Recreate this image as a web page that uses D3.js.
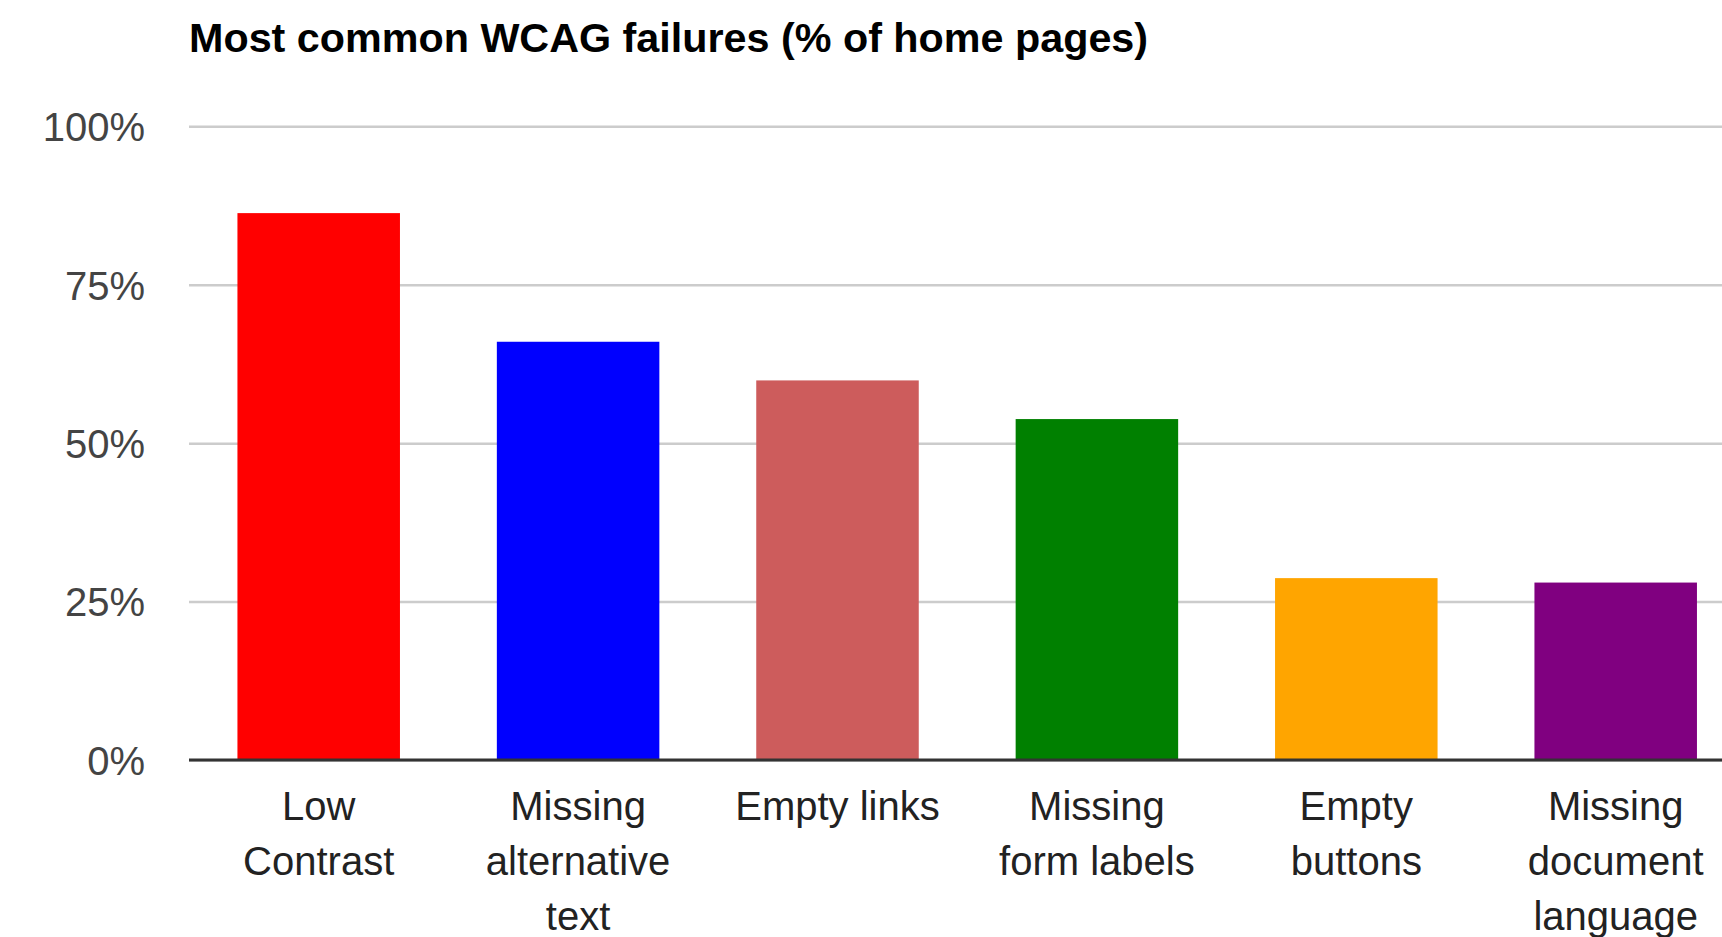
<!DOCTYPE html>
<html>
<head>
<meta charset="utf-8">
<script src="https://cdn.jsdelivr.net/npm/d3@7"></script>
<style>
  body { margin: 0; background: #ffffff; }
  text { font-family: Arial, "Liberation Sans", sans-serif; }
</style>
</head>
<body>
<script>
var categories = ["Low Contrast", "Missing alternative text", "Empty links",
  "Missing form labels", "Empty buttons", "Missing document language"];
var values = [86.3, 66.0, 59.9, 53.8, 28.7, 28.0];
var colors = ["#ff0000", "#0000ff", "#cd5c5c", "#008000", "#ffa500", "#800080"];
var yTicks = [0, 25, 50, 75, 100];
var title = "Most common WCAG failures (% of home pages)";

var width = 1722;
var height = 937;
var left = 189;
var step = 259.4;

var svg = d3.select("body")
  .append("svg")
  .attr("width", width)
  .attr("height", height);

var x = d3.scaleBand()
  .domain(categories)
  .range([left, left + step * categories.length])
  .paddingInner(0.3735)
  .paddingOuter(0.3735 / 2);

var y = d3.scaleLinear()
  .domain([0, 100])
  .range([760, 126.3]);

svg.append("text")
  .attr("x", left)
  .attr("y", 52)
  .attr("font-size", 41.3)
  .attr("font-weight", "bold")
  .attr("fill", "#000000")
  .text(title);

// gridlines + tick labels
var yAxis = svg.append("g")
  .attr("transform", "translate(" + left + ",0)")
  .call(d3.axisLeft(y)
    .tickValues(yTicks)
    .tickSize(-(width - left))
    .tickPadding(44)
    .tickFormat(function (d) { return d + "%"; }));
yAxis.select(".domain").remove();
yAxis.selectAll(".tick line")
  .attr("stroke", "#cccccc")
  .attr("stroke-width", 2.5);
yAxis.selectAll(".tick text")
  .attr("font-size", 40)
  .attr("fill", "#444444")
  .attr("dy", "0.36em");

svg.append("g")
  .selectAll("rect")
  .data(values)
  .enter()
  .append("rect")
  .attr("x", function (d, i) { return x(categories[i]); })
  .attr("y", function (d) { return y(d); })
  .attr("width", x.bandwidth())
  .attr("height", function (d) { return y(0) - y(d); })
  .attr("fill", function (d, i) { return colors[i]; });

svg.append("line")
  .attr("x1", left)
  .attr("x2", width)
  .attr("y1", y(0))
  .attr("y2", y(0))
  .attr("stroke", "#333333")
  .attr("stroke-width", 3);

// category labels, wrapped by width
var maxLabel = 215;
var labelg = svg.append("g");
for (var i = 0; i < categories.length; i ++) {
  var t = labelg.append("text")
    .attr("x", x(categories[i]) + x.bandwidth() / 2)
    .attr("y", 820)
    .attr("text-anchor", "middle")
    .attr("font-size", 40)
    .attr("fill", "#222222");
  var words = categories[i].split(" ");
  var lines = [];
  var line = [];
  var probe = t.append("tspan");
  for (var j = 0; j < words.length; j ++) {
    line.push(words[j]);
    probe.text(line.join(" "));
    if (probe.node().getComputedTextLength() > maxLabel && line.length > 1) {
      line.pop();
      lines.push(line.join(" "));
      line = [words[j]];
    }
  }
  lines.push(line.join(" "));
  probe.remove();
  for (var k = 0; k < lines.length; k ++) {
    t.append("tspan")
      .attr("x", x(categories[i]) + x.bandwidth() / 2)
      .attr("y", 820 + k * 55)
      .text(lines[k]);
  }
}
</script>
</body>
</html>
